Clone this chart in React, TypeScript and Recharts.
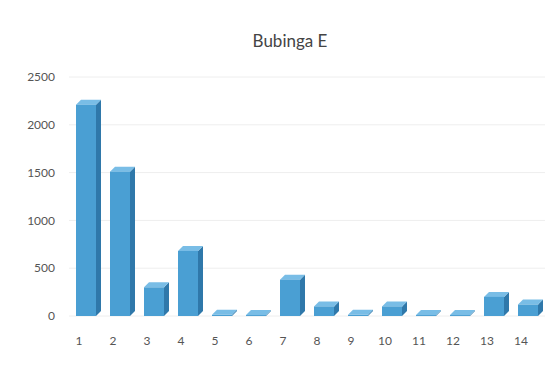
import { BarChart, Bar, XAxis, YAxis, CartesianGrid } from "recharts"

const categories = ["1", "2", "3", "4", "5", "6", "7", "8", "9", "10", "11", "12", "13", "14"]
const values = [2210, 1510, 300, 680, 12, 10, 380, 100, 12, 100, 10, 10, 200, 120]
const yTicks = [0, 500, 1000, 1500, 2000, 2500]

const data = categories.map((c, i) => ({ name: c, value: values[i] }))

// front face + side + top, a rough take on the old Excel 3D column
const Column3D = (props: any) => {
  const { x, y, width, height } = props
  const d = 5
  const h = Math.max(height, 1)
  return (
    <g>
      <polygon
        points={`${x + width},${y} ${x + width + d},${y - d} ${x + width + d},${y + h - d} ${x + width},${y + h}`}
        fill="#2f78aa"
      />
      <polygon
        points={`${x},${y} ${x + d},${y - d} ${x + width + d},${y - d} ${x + width},${y}`}
        fill="#79bde6"
      />
      <rect x={x} y={y} width={width} height={h} fill="#4a9fd3" />
    </g>
  )
}

export default function App() {
  return (
    <div style={{ position: "absolute", left: 0, top: 0, width: 547, height: 372, background: "#fff" }}>
      <div
        style={{
          position: "absolute",
          top: 30,
          left: 0,
          width: 580,
          textAlign: "center",
          fontFamily: "Lato, sans-serif",
          fontSize: 17,
          color: "#444",
        }}
      >
        Bubinga E
      </div>
      <BarChart width={547} height={372} data={data} margin={{ top: 77, right: 2, bottom: 26, left: 0 }}>
        <CartesianGrid vertical={false} stroke="#eeeeee" />
        <XAxis
          dataKey="name"
          axisLine={false}
          tickLine={false}
          height={30}
          tickSize={0}
          tickMargin={20}
          tick={{ fill: "#555", fontSize: 12, fontFamily: "Lato, sans-serif", dx: -7 }}
          interval={0}
        />
        <YAxis
          domain={[0, 2500]}
          ticks={yTicks}
          axisLine={false}
          tickLine={false}
          width={69}
          tickSize={0}
          tickMargin={14}
          tick={{ fill: "#555", fontSize: 12, fontFamily: "Lato, sans-serif" }}
        />
        <Bar dataKey="value" barSize={20} shape={<Column3D />} isAnimationActive={false} />
      </BarChart>
    </div>
  )
}
